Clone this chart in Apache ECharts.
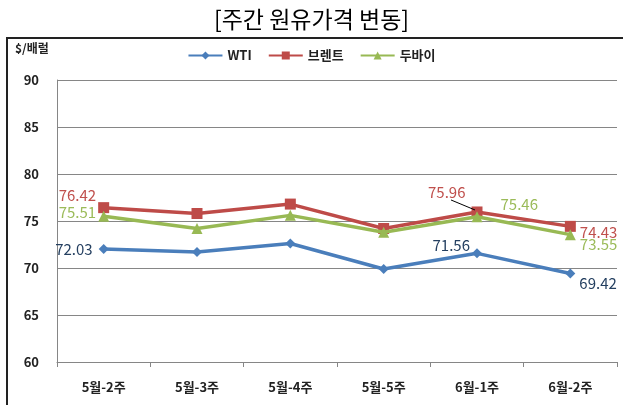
<!DOCTYPE html>
<html><head><meta charset="utf-8">
<script src="https://cdn.jsdelivr.net/npm/echarts@6/dist/echarts.min.js"></script>
<style>html,body{margin:0;padding:0;background:#fff}#c{width:623px;height:405px}</style>
</head><body><div id="c"></div>
<script>
const categories = ['5월-2주','5월-3주','5월-4주','5월-5주','6월-1주','6월-2주'];
const wti   = [72.03, 71.7, 72.6, 69.9, 71.56, 69.42];
const brent = [76.42, 75.8, 76.8, 74.2, 75.96, 74.43];
const dubai = [75.51, 74.2, 75.6, 73.8, 75.46, 73.55];
const yTicks = [60, 65, 70, 75, 80, 85, 90];

const FONT = '"Noto Sans CJK KR", "Noto Sans", sans-serif';

function mk(vals, labelCfg) {
  return vals.map((v, i) => {
    const item = { value: v };
    if (labelCfg[i]) item.label = Object.assign({ show: true, fontFamily: FONT, fontSize: 15 }, labelCfg[i]);
    return item;
  });
}

const wtiLabels = {
  0: { position: 'left', distance: 6, color: '#243f60' },
  4: { position: 'left', offset: [4, -8], distance: 6, color: '#243f60' },
  5: { position: 'right', offset: [0, 10], distance: 4, color: '#243f60' }
};
const brentLabels = {
  0: { position: 'left', offset: [2, -12], distance: 4, color: '#c0504d' },
  4: { position: 'left', offset: [-2, -20], distance: 4, color: '#c0504d' },
  5: { position: 'right', offset: [0, 6], distance: 4, color: '#c0504d' }
};
const dubaiLabels = {
  0: { position: 'left', offset: [2, -4], distance: 4, color: '#9bbb59' },
  4: { position: 'right', offset: [14, -12], distance: 4, color: '#9bbb59' },
  5: { position: 'right', offset: [0, 10], distance: 4, color: '#9bbb59' }
};

const chart = echarts.init(document.getElementById('c'), null, { renderer: 'canvas' });
chart.setOption({
  animation: false,
  backgroundColor: '#fff',
  title: {
    text: '[주간 원유가격 변동]', left: 'center', top: 3,
    textStyle: { fontFamily: FONT, fontSize: 23, fontWeight: 'normal', color: '#000' }
  },
  legend: {
    top: 44, left: 'center', itemWidth: 34, itemHeight: 10, itemGap: 16,
    textStyle: { fontFamily: FONT, fontSize: 13, fontWeight: 'bold', color: '#222' },
    data: ['WTI', '브렌트', '두바이']
  },
  graphic: [
    { type: 'rect', shape: { x: 7, y: 38, width: 640, height: 400 }, style: { fill: 'none', stroke: '#222', lineWidth: 2 }, z: -1 },
    { type: 'text', left: 15, top: 42, style: { text: '$/배럴', font: 'bold 12px ' + FONT, fill: '#222' } }
  ],
  grid: { left: 57, right: 6, top: 80, bottom: 43 },
  xAxis: {
    type: 'category', data: categories, boundaryGap: true,
    axisLine: { lineStyle: { color: '#868686', width: 1 } },
    axisTick: { show: true, length: 5, lineStyle: { color: '#868686' } },
    axisLabel: { fontFamily: FONT, fontSize: 13, fontWeight: 'bold', color: '#222', margin: 19 }
  },
  yAxis: {
    type: 'value', min: yTicks[0], max: yTicks[yTicks.length - 1], interval: 5,
    axisLine: { show: true, lineStyle: { color: '#868686' } },
    axisTick: { show: false },
    splitLine: { lineStyle: { color: '#868686', width: 1 } },
    axisLabel: { fontFamily: FONT, fontSize: 13, fontWeight: 'bold', color: '#222', margin: 18 }
  },
  series: [
    { name: 'WTI', type: 'line', data: mk(wti, wtiLabels), symbol: 'diamond', symbolSize: 10,
      lineStyle: { color: '#4a7ebb', width: 3.5 }, itemStyle: { color: '#4a7ebb' }, z: 3 },
    { name: '브렌트', type: 'line', data: mk(brent, brentLabels), symbol: 'rect', symbolSize: 11,
      lineStyle: { color: '#be4b48', width: 3.5 }, itemStyle: { color: '#be4b48' }, z: 2 },
    { name: '두바이', type: 'line', data: mk(dubai, dubaiLabels), symbol: 'triangle', symbolSize: 11,
      lineStyle: { color: '#98b954', width: 3.5 }, itemStyle: { color: '#98b954' }, z: 4 }
  ]
});
// leader line for the Brent label at 6월-1주
const p = chart.convertToPixel({ xAxisIndex: 0, yAxisIndex: 0 }, [categories[4], brent[4]]);
chart.setOption({ graphic: [
  { type: 'rect', shape: { x: 7, y: 38, width: 640, height: 400 }, style: { fill: 'none', stroke: '#222', lineWidth: 2 }, z: -1 },
  { type: 'text', left: 15, top: 42, style: { text: '$/배럴', font: 'bold 12px ' + FONT, fill: '#222' } },
  { type: 'line', shape: { x1: p[0] - 26, y1: p[1] - 12, x2: p[0] - 2, y2: p[1] - 2 }, style: { stroke: '#000', lineWidth: 1 }, z: 10 }
] });
</script></body></html>
